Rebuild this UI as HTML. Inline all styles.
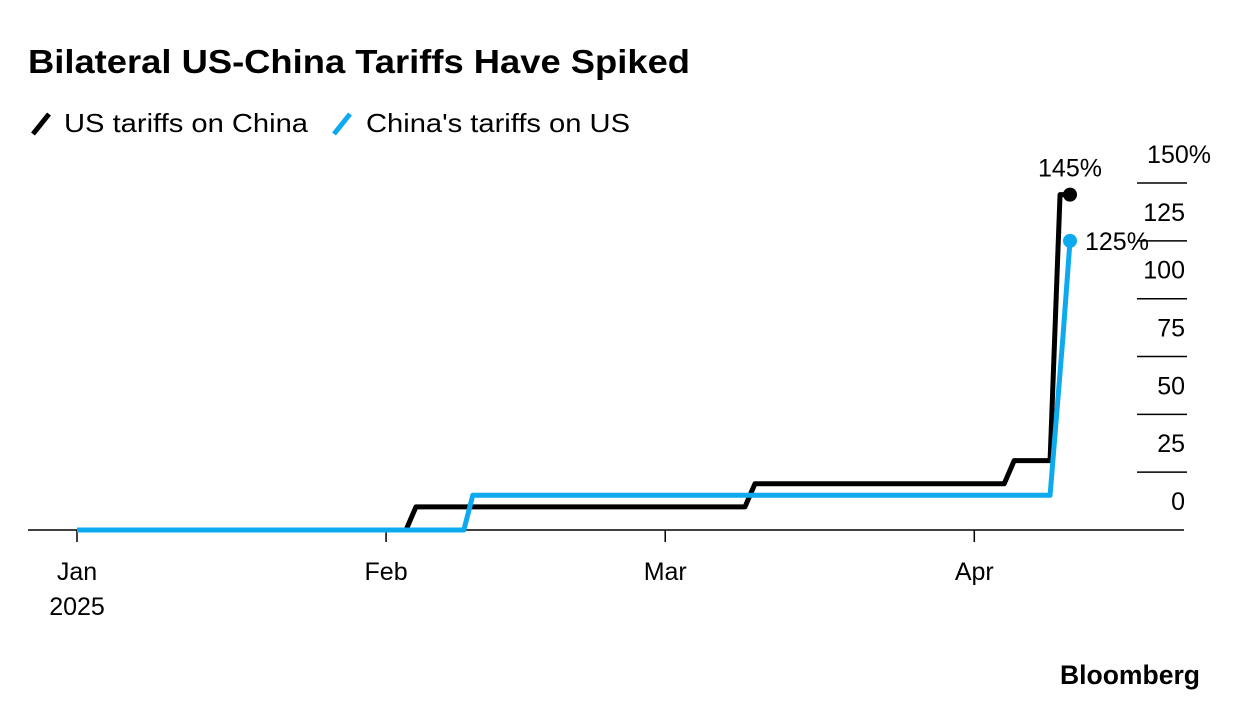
<!DOCTYPE html>
<html><head><meta charset="utf-8"><style>
body{margin:0;background:#fff;width:1240px;height:716px;overflow:hidden;font-family:"Liberation Sans",Arial,sans-serif}
svg text{font-family:"Liberation Sans",Arial,sans-serif}
</style></head><body>
<svg id="c" width="1240" height="716">
<text x="28" y="73" font-size="33" font-weight="bold" fill="#000" textLength="662" lengthAdjust="spacingAndGlyphs">Bilateral US-China Tariffs Have Spiked</text>
<g>
<line x1="33" y1="134" x2="49" y2="114" stroke="#000" stroke-width="5"/>
<text x="64" y="132" font-size="26" fill="#000" textLength="244" lengthAdjust="spacingAndGlyphs">US tariffs on China</text></g>
<g>
<line x1="334" y1="134" x2="350" y2="114" stroke="#0daaf0" stroke-width="5"/>
<text x="366" y="132" font-size="26" fill="#000" textLength="264" lengthAdjust="spacingAndGlyphs">China's tariffs on US</text></g>
<text x="1200" y="684" font-size="27" font-weight="bold" text-anchor="end" fill="#000" textLength="140" lengthAdjust="spacingAndGlyphs">Bloomberg</text>
<g id="axes"></g><g id="lines"></g>
</svg>
<script>
const yTicks=[0,25,50,75,100,125,150];
const yTickLabels=["0","25","50","75","100","125","150%"];
const monthDays=[0,31,59,90];
const monthLabels=["Jan","Feb","Mar","Apr"];
const usDays=[0,33,34,67,68,93,94,97.6,98.6,99.6];
const usValues=[0,0,10,10,20,20,30,30,145,145];
const cnDays=[0,38.8,39.7,97.6,98.9,99.6];
const cnValues=[0,0,15,15,84,125];
const usEnd="145%", cnEnd="125%";
const X=d=>77+d*9.97, Y=v=>530-v*2.313;
const NS="http://www.w3.org/2000/svg";
function mk(tag,attrs,parent){const e=document.createElementNS(NS,tag);for(const k in attrs)e.setAttribute(k,attrs[k]);parent.appendChild(e);return e;}
const ax=document.getElementById('axes'), ln=document.getElementById('lines');
yTicks.forEach((t,i)=>{
 if(t>0){const g=mk('line',{x1:1137,x2:1187,y1:Y(t),y2:Y(t),stroke:'#000','stroke-width':1.5},ax);
 
 }
 const tx=mk('text',{x:1185,y:Y(t)-20,'font-size':25,'text-anchor':'end',fill:'#000'},ax);
 tx.textContent=yTickLabels[i];
 if(t===150){tx.setAttribute('x',1211);}
 
 
});
const base=mk('line',{x1:28,x2:1184,y1:530,y2:530,stroke:'#000','stroke-width':1.5},ax);


monthDays.forEach((d,i)=>{
 const t=mk('line',{x1:X(d),x2:X(d),y1:530,y2:542,stroke:'#000','stroke-width':1.5},ax);
 
 
 const tx=mk('text',{x:X(d),y:580,'font-size':25,'text-anchor':'middle',fill:'#000'},ax);
 tx.textContent=monthLabels[i];
 
 
});
const yr=mk('text',{x:X(0),y:615,'font-size':25,'text-anchor':'middle',fill:'#000'},ax);
yr.textContent="2025";


function series(days,vals,color,name,label,lx,ly,anchor){
 const p=mk('polyline',{points:days.map((d,i)=>X(d)+','+Y(vals[i])).join(' '),fill:'none',stroke:color,'stroke-width':5,'stroke-linejoin':'round'},ln);
 
 
 const n=days.length-1;
 const c=mk('circle',{cx:X(days[n]),cy:Y(vals[n]),r:7,fill:color},ln);
 
 
 const t=mk('text',{x:X(days[n])+lx,y:Y(vals[n])+ly,'font-size':25,'text-anchor':anchor,fill:'#000'},ln);
 t.textContent=label;
 
 
}
series(usDays,usValues,'#000','us-tariffs',usEnd,0,-18,'middle');
series(cnDays,cnValues,'#0daaf0','china-tariffs',cnEnd,15,9,'start');
</script>
</body></html>
